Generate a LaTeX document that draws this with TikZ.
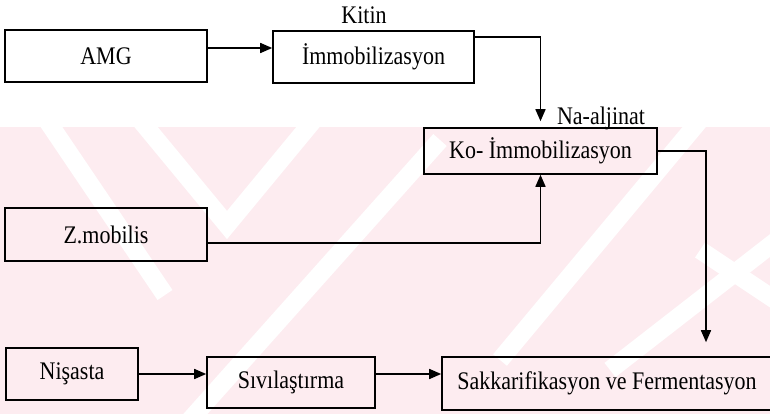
\documentclass[tikz,border=0pt]{standalone}
\usepackage{fontspec}
\setmainfont{Liberation Serif}
\usetikzlibrary{arrows.meta}
\definecolor{wmpink}{RGB}{253,236,240}
\newcommand{\uzun}[1]{\scalebox{1}[1.15]{#1}}

\begin{document}
\begin{tikzpicture}[x=1pt, y=-1pt,
        box/.style={draw, line width=1.6pt, inner sep=0pt, font=\fontsize{22}{26}\selectfont},
        lbl/.style={anchor=base, inner sep=0pt, font=\fontsize{22}{26}\selectfont},
        arr/.style={line width=1.6pt, -{Triangle[length=12pt, width=10pt]}},
        wmline/.style={white, line width=18pt}]
        \useasboundingbox (0, 0) rectangle (770, 414);
        % filigran
        \fill[wmpink] (0, 127) rectangle (770, 414);
        \begin{scope}
            \clip (0, 127) rectangle (770, 414);
            \draw[wmline] (40, 110) -- (165, 295);
            \draw[wmline] (132, 110) -- (227, 225) -- (322, 110);
            \draw[wmline] (190, 420) -- (440, 140);
            \draw[wmline] (500, 360) -- (700, 120);
            \draw[wmline] (700, 250) -- (790, 310);
            \draw[wmline] (610, 370) -- (790, 230);
        \end{scope}
        % kutular
        \node[box, minimum width=202pt, minimum height=52pt] (amg) at (106, 56) {\uzun{AMG}};
        \node[box, minimum width=201pt, minimum height=52pt] (imm) at (373.5, 57) {\uzun{İmmobilizasyon}};
        \node[box, minimum width=233pt, minimum height=46pt] (ko) at (540.5, 151) {\uzun{Ko- İmmobilizasyon}};
        \node[box, minimum width=202pt, minimum height=53pt] (zmob) at (106, 234.5) {\uzun{Z.mobilis}};
        \node[box, minimum width=132pt, minimum height=52pt] (nis) at (72, 374) {\uzun{Nişasta}};
        \node[box, minimum width=168pt, minimum height=51pt] (siv) at (291, 382.5) {\uzun{Sıvılaştırma}};
        \node[box, minimum width=330pt, minimum height=53pt] (sakk) at (607, 383.5) {\uzun{Sakkarifikasyon ve Fermentasyon}};
        \node[lbl] (kitin) at (364, 24) {\uzun{Kitin}};
        \node[lbl] (naalj) at (601, 125) {\uzun{Na-aljinat}};
        % oklar
        \draw[arr] ([yshift=8pt]amg.east) -- ([yshift=9pt]imm.west);
        \draw[arr] ([yshift=20pt]imm.east) -| ([yshift=6pt]ko.north);
        \draw[arr] ([yshift=-8.5pt]zmob.east) -| (ko.south);
        \draw[arr] (ko.east) -| ([xshift=99pt, yshift=14pt]sakk.north);
        \draw[arr] (nis.east) -- ([yshift=8.5pt]siv.west);
        \draw[arr] ([yshift=8.5pt]siv.east) -- ([yshift=9.5pt]sakk.west);
\end{tikzpicture}
\end{document}
